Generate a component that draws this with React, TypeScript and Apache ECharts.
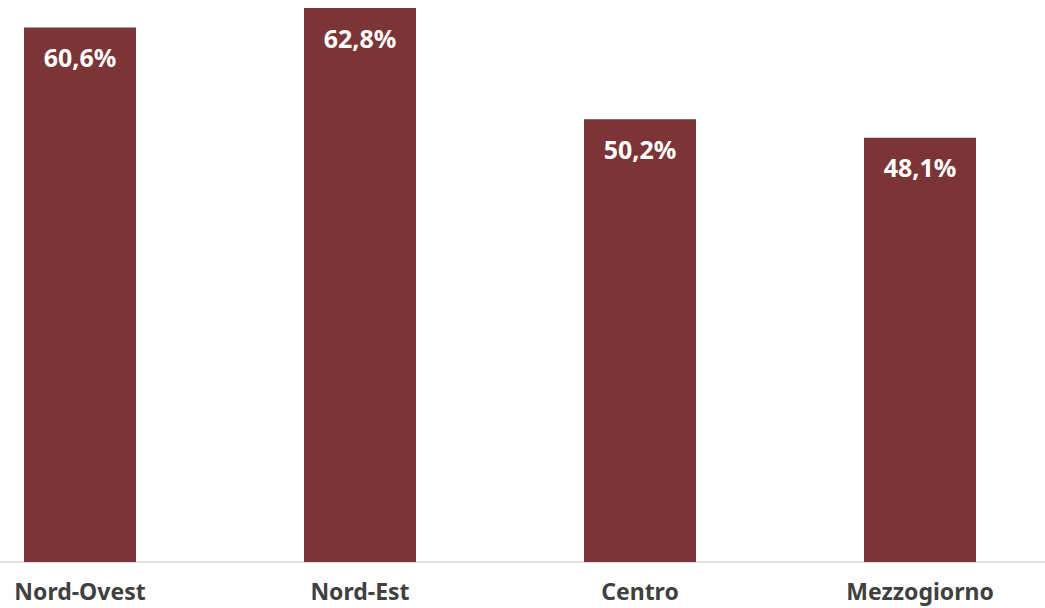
import React, { useEffect, useRef } from "react";
import * as echarts from "echarts";

const categories = ["Nord-Ovest", "Nord-Est", "Centro", "Mezzogiorno"];
const values = [60.6, 62.8, 50.2, 48.1];

export default function App() {
  const ref = useRef<HTMLDivElement>(null);
  useEffect(() => {
    document.body.style.margin = "0";
    const chart = echarts.init(ref.current!, null, { renderer: "svg" });
    chart.setOption({
      animation: false,
      grid: { left: 0, right: 0, top: 8, bottom: 46, containLabel: false },
      xAxis: {
        type: "category",
        data: categories,
        axisLine: { lineStyle: { color: "#d9d9d9", width: 1.5 } },
        axisTick: { show: false },
        axisLabel: {
          color: "#404040",
          fontSize: 23,
          fontWeight: "bold",
          fontFamily: "Noto Sans",
          margin: 17,
        },
      },
      yAxis: {
        type: "value",
        min: 0,
        max: 62.8,
        show: false,
        splitLine: { show: false },
      },
      series: [
        {
          type: "bar",
          data: values,
          barWidth: 112,
          itemStyle: { color: "#7B3537" },
          label: {
            show: true,
            position: "insideTop",
            distance: 17,
            color: "#ffffff",
            fontSize: 25,
            fontWeight: "bold",
            fontFamily: "Noto Sans",
            formatter: (p: any) => p.value.toFixed(1).replace(".", ",") + "%",
          },
        },
      ],
    });
    return () => chart.dispose();
  }, []);
  return (
    <div style={{ width: 1045, height: 608, overflow: "hidden", position: "relative" }}>
      <div ref={ref} style={{ width: 1120, height: 608, marginLeft: -60 }} />
    </div>
  );
}
